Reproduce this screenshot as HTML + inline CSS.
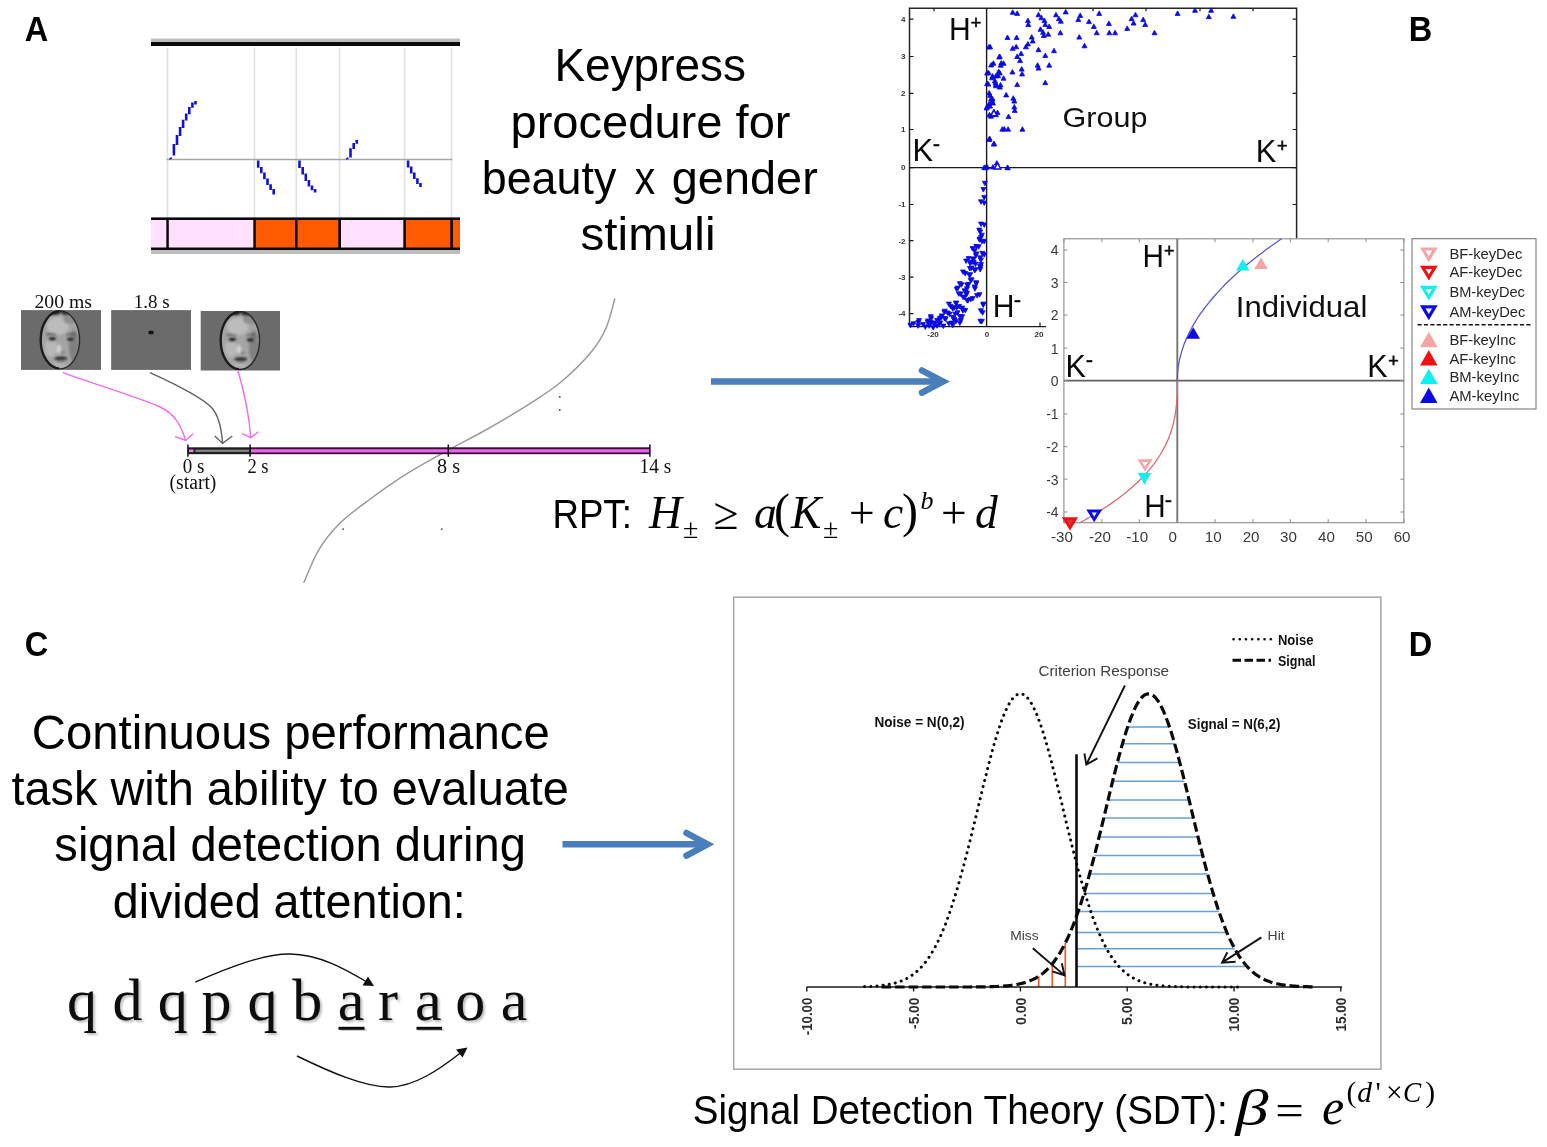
<!DOCTYPE html>
<html lang="en"><head><meta charset="utf-8"><title>Figure: keypress procedure, RPT, continuous performance task and signal detection theory</title>
<style>html,body{margin:0;padding:0;background:#fff;}body{width:1547px;height:1147px;overflow:hidden;}svg{display:block;}</style>
</head><body>
<svg width="1547" height="1147" viewBox="0 0 1547 1147">
<defs>
<radialGradient id="faceg" cx="0.45" cy="0.4" r="0.75"><stop offset="0" stop-color="#dcdcdc"/><stop offset="0.55" stop-color="#c2c2c2"/><stop offset="1" stop-color="#8c8c8c"/></radialGradient>
<filter id="soft" filterUnits="userSpaceOnUse" x="0" y="290" width="300" height="100"><feGaussianBlur stdDeviation="1.0"/></filter>
<filter id="soft2" filterUnits="userSpaceOnUse" x="0" y="290" width="300" height="100"><feGaussianBlur stdDeviation="0.45"/></filter>
<filter id="lshadow" x="-10%" y="-10%" width="130%" height="130%"><feGaussianBlur in="SourceAlpha" stdDeviation="1.3" result="b"/><feOffset in="b" dx="1.8" dy="1.8" result="o"/><feComponentTransfer in="o" result="s"><feFuncA type="linear" slope="0.26"/></feComponentTransfer><feMerge><feMergeNode in="s"/><feMergeNode in="SourceGraphic"/></feMerge></filter>
</defs>
<rect width="1547" height="1147" fill="#fff"/>
<g id="panel-labels">
<text x="24.8" y="41" font-family='"Liberation Sans", Arial, Helvetica, sans-serif' font-size="34.8" text-anchor="start" font-weight="bold" textLength="23.5" lengthAdjust="spacingAndGlyphs">A</text>
<text x="1408.8" y="40.8" font-family='"Liberation Sans", Arial, Helvetica, sans-serif' font-size="34.8" text-anchor="start" font-weight="bold" textLength="23.5" lengthAdjust="spacingAndGlyphs">B</text>
<text x="24.7" y="655.9" font-family='"Liberation Sans", Arial, Helvetica, sans-serif' font-size="34.8" text-anchor="start" font-weight="bold" textLength="23.5" lengthAdjust="spacingAndGlyphs">C</text>
<text x="1408.8" y="655.8" font-family='"Liberation Sans", Arial, Helvetica, sans-serif' font-size="34.8" text-anchor="start" font-weight="bold" textLength="23.5" lengthAdjust="spacingAndGlyphs">D</text>
</g>
<g id="trace">
<rect x="151" y="38.5" width="309" height="4" fill="#bdbdbd"/>
<rect x="151" y="42" width="309" height="4" fill="#0a0a0a"/>
<line x1="167.5" y1="47.5" x2="167.5" y2="218" stroke="#e2e2e2" stroke-width="1.7"/>
<line x1="254.5" y1="47.5" x2="254.5" y2="218" stroke="#e2e2e2" stroke-width="1.7"/>
<line x1="296.3" y1="47.5" x2="296.3" y2="218" stroke="#e2e2e2" stroke-width="1.7"/>
<line x1="339.6" y1="47.5" x2="339.6" y2="218" stroke="#e2e2e2" stroke-width="1.7"/>
<line x1="404.6" y1="47.5" x2="404.6" y2="218" stroke="#e2e2e2" stroke-width="1.7"/>
<line x1="451.6" y1="47.5" x2="451.6" y2="218" stroke="#e2e2e2" stroke-width="1.7"/>
<line x1="166.5" y1="159.5" x2="452.5" y2="159.5" stroke="#a6a6a6" stroke-width="1.5"/>
<rect x="151" y="250" width="309" height="4" fill="#bdbdbd"/>
<rect x="151" y="217.4" width="309" height="32.6" fill="#0a0a0a"/>
<rect x="151" y="220" width="15.3" height="27.5" fill="#ffe0ff"/>
<rect x="168.8" y="220" width="84.5" height="27.5" fill="#ffe0ff"/>
<rect x="255.8" y="220" width="39.2" height="27.5" fill="#ff5a00"/>
<rect x="297.6" y="220" width="40.7" height="27.5" fill="#ff5a00"/>
<rect x="341" y="220" width="62.3" height="27.5" fill="#ffe0ff"/>
<rect x="405.9" y="220" width="44.4" height="27.5" fill="#ff5a00"/>
<rect x="452.9" y="220" width="7.1" height="27.5" fill="#ff5a00"/>
<path d="M172.6 144.1h2.6V155.4h-2.6ZM175.7 135.1h2.6V144.9h-2.6ZM178.8 127.1h2.6V135.9h-2.6ZM181.8 119.8h2.6V127.9h-2.6ZM184.9 113.4h2.6V120.6h-2.6ZM188.0 106.9h2.6V114.2h-2.6ZM191.1 102.6h2.6V107.7h-2.6ZM194.2 101.1h2.6V104.5h-2.6ZM256.9 160.6h2.6V167.7h-2.6ZM260.0 166.9h2.6V173.2h-2.6ZM263.1 172.4h2.6V179.2h-2.6ZM266.2 178.4h2.6V185.0h-2.6ZM269.3 184.2h2.6V189.9h-2.6ZM272.4 189.1h2.6V194.4h-2.6ZM298.2 160.6h2.6V167.9h-2.6ZM301.4 167.1h2.6V174.4h-2.6ZM304.5 173.6h2.6V180.9h-2.6ZM307.6 180.1h2.6V186.4h-2.6ZM310.7 185.6h2.6V190.2h-2.6ZM313.8 189.0h2.6V192.4h-2.6ZM349.2 148.2h2.6V157.4h-2.6ZM352.4 143.0h2.6V149.0h-2.6ZM355.5 139.9h2.6V143.8h-2.6ZM406.8 160.6h2.6V167.4h-2.6ZM409.9 166.6h2.6V173.4h-2.6ZM413.0 172.6h2.6V179.1h-2.6ZM416.1 178.3h2.6V183.9h-2.6ZM419.2 183.1h2.6V186.9h-2.6Z" fill="#1212d6"/>
<path d="M169.5 159.3 l2.2 -1.6 M346.3 159.3 l2 -1.6" stroke="#1212d6" stroke-width="1.6" fill="none"/>
</g>
<g id="keypress-text">
<text x="650.2" y="81.3" font-family='"Liberation Sans", Arial, Helvetica, sans-serif' font-size="47" text-anchor="middle" textLength="191.5" lengthAdjust="spacingAndGlyphs">Keypress</text>
<text x="650.5" y="137.5" font-family='"Liberation Sans", Arial, Helvetica, sans-serif' font-size="47" text-anchor="middle" textLength="280" lengthAdjust="spacingAndGlyphs">procedure for</text>
<text x="481.8" y="193.6" font-family='"Liberation Sans", Arial, Helvetica, sans-serif' font-size="47" text-anchor="start" textLength="134.5" lengthAdjust="spacingAndGlyphs">beauty</text>
<text x="634.8" y="193.6" font-family='"Liberation Sans", Arial, Helvetica, sans-serif' font-size="47" text-anchor="start" textLength="20.5" lengthAdjust="spacingAndGlyphs">x</text>
<text x="671.8" y="193.6" font-family='"Liberation Sans", Arial, Helvetica, sans-serif' font-size="47" text-anchor="start" textLength="146" lengthAdjust="spacingAndGlyphs">gender</text>
<text x="648" y="250.4" font-family='"Liberation Sans", Arial, Helvetica, sans-serif' font-size="47" text-anchor="middle" textLength="135" lengthAdjust="spacingAndGlyphs">stimuli</text>
</g>
<path id="sigmoid" d="M303.7 583 C306.2 577.6 312.6 560.3 318.5 550.4 C324.4 540.5 330.9 532.2 339.3 523.8 C347.7 515.4 357.5 508.4 368.9 500 C380.2 491.6 394.0 481.8 407.4 473.4 C420.8 465.0 435.6 457.1 449 449.7 C462.4 442.3 473.7 436.9 487.5 429 C501.3 421.1 519.5 410.2 531.9 402.3 C544.2 394.4 551.7 389.9 561.6 381.5 C571.5 373.1 583.8 360.8 591.2 351.9 C598.6 343.0 602.0 337.1 606 328.2 C610.0 319.3 613.4 303.4 614.9 298.5" stroke="#9a9a9a" stroke-width="1.5" fill="none"/>
<circle cx="343.1" cy="529.1" r="0.9" fill="#444"/>
<circle cx="441.8" cy="529.1" r="0.9" fill="#444"/>
<circle cx="559.8" cy="396.9" r="0.9" fill="#444"/>
<circle cx="559.8" cy="410" r="0.9" fill="#444"/>
<g id="stimuli">
<text x="34.5" y="307.7" font-family='"Liberation Serif", "Times New Roman", serif' font-size="18.8" text-anchor="start" fill="#111" textLength="57.5" lengthAdjust="spacingAndGlyphs">200 ms</text>
<text x="133.7" y="307.7" font-family='"Liberation Serif", "Times New Roman", serif' font-size="18.8" text-anchor="start" fill="#111" textLength="36" lengthAdjust="spacingAndGlyphs">1.8 s</text>
<rect x="21" y="310.1" width="80" height="59.8" fill="#6b6b6b"/>
<rect x="111.2" y="310.1" width="79.8" height="59.8" fill="#6b6b6b"/>
<rect x="200.7" y="311" width="79.3" height="59.5" fill="#6b6b6b"/>
<clipPath id="c1"><rect x="21" y="310.1" width="80" height="59.8"/></clipPath>
<clipPath id="c3"><rect x="200.7" y="311" width="79.3" height="59.5"/></clipPath>
<g clip-path="url(#c1)">
<g>
<clipPath id="fca"><ellipse cx="60" cy="339.9" rx="20.2" ry="29.6"/></clipPath>
<ellipse cx="60" cy="339.9" rx="20.2" ry="29.6" fill="#a4a4a4"/>
<g clip-path="url(#fca)"><g filter="url(#soft)">
<ellipse cx="58" cy="325.9" rx="11" ry="9" fill="#bcbcbc"/>
<ellipse cx="51" cy="347.9" rx="6" ry="9" fill="#b8b8b8"/>
<ellipse cx="59" cy="348.9" rx="2.2" ry="4.5" fill="#d2d2d2"/>
<ellipse cx="60" cy="364.9" rx="6" ry="3" fill="#b4b4b4"/>
<ellipse cx="74" cy="345.9" rx="5" ry="16" fill="#808080"/>
<ellipse cx="70" cy="318.9" rx="7" ry="5" fill="#8e8e8e"/>
<ellipse cx="55" cy="311.4" rx="6" ry="3.6" fill="#2a2a2a"/>
<ellipse cx="66" cy="311.9" rx="5" ry="3.4" fill="#303030"/>
<ellipse cx="52.2" cy="339.09999999999997" rx="3.6" ry="1.9" fill="#181818"/>
<ellipse cx="70.5" cy="339.29999999999995" rx="3.6" ry="1.8" fill="#202020"/>
<path d="M46.5 334.9 Q52 332.4 56.5 335.29999999999995" stroke="#3c3c3c" stroke-width="1.3" fill="none"/>
<path d="M66.5 334.9 Q71 332.9 76 334.9" stroke="#444" stroke-width="1.2" fill="none"/>
<ellipse cx="60.8" cy="358.5" rx="6.6" ry="1.9" fill="#2c2c2c"/>
<ellipse cx="61" cy="361.4" rx="4" ry="1.3" fill="#808080"/>
<ellipse cx="62.5" cy="352.4" rx="2.6" ry="1" fill="#7a7a7a"/>
</g></g>
<ellipse cx="60" cy="339.9" rx="19.599999999999998" ry="29.0" fill="none" stroke="#262626" stroke-width="1.4" filter="url(#soft2)"/>
<clipPath id="fla"><rect x="37.8" y="308.29999999999995" width="21.2" height="63.2"/></clipPath>
<ellipse cx="60" cy="339.9" rx="19.3" ry="28.700000000000003" fill="none" stroke="#1a1a1a" stroke-width="2.3" filter="url(#soft2)" clip-path="url(#fla)"/>
</g>
</g>
<g clip-path="url(#c3)">
<g>
<clipPath id="fcb"><ellipse cx="240" cy="340.5" rx="20.2" ry="29.6"/></clipPath>
<ellipse cx="240" cy="340.5" rx="20.2" ry="29.6" fill="#a4a4a4"/>
<g clip-path="url(#fcb)"><g filter="url(#soft)">
<ellipse cx="238" cy="326.5" rx="11" ry="9" fill="#bcbcbc"/>
<ellipse cx="231" cy="348.5" rx="6" ry="9" fill="#b8b8b8"/>
<ellipse cx="239" cy="349.5" rx="2.2" ry="4.5" fill="#d2d2d2"/>
<ellipse cx="240" cy="365.5" rx="6" ry="3" fill="#b4b4b4"/>
<ellipse cx="254" cy="346.5" rx="5" ry="16" fill="#808080"/>
<ellipse cx="250" cy="319.5" rx="7" ry="5" fill="#8e8e8e"/>
<ellipse cx="235" cy="312.0" rx="6" ry="3.6" fill="#2a2a2a"/>
<ellipse cx="246" cy="312.5" rx="5" ry="3.4" fill="#303030"/>
<ellipse cx="232.2" cy="339.7" rx="3.6" ry="1.9" fill="#181818"/>
<ellipse cx="250.5" cy="339.9" rx="3.6" ry="1.8" fill="#202020"/>
<path d="M226.5 335.5 Q232 333.0 236.5 335.9" stroke="#3c3c3c" stroke-width="1.3" fill="none"/>
<path d="M246.5 335.5 Q251 333.5 256 335.5" stroke="#444" stroke-width="1.2" fill="none"/>
<ellipse cx="240.8" cy="359.1" rx="6.6" ry="1.9" fill="#2c2c2c"/>
<ellipse cx="241" cy="362.0" rx="4" ry="1.3" fill="#808080"/>
<ellipse cx="242.5" cy="353.0" rx="2.6" ry="1" fill="#7a7a7a"/>
</g></g>
<ellipse cx="240" cy="340.5" rx="19.599999999999998" ry="29.0" fill="none" stroke="#262626" stroke-width="1.4" filter="url(#soft2)"/>
<clipPath id="flb"><rect x="217.8" y="308.9" width="21.2" height="63.2"/></clipPath>
<ellipse cx="240" cy="340.5" rx="19.3" ry="28.700000000000003" fill="none" stroke="#1a1a1a" stroke-width="2.3" filter="url(#soft2)" clip-path="url(#flb)"/>
</g>
</g>
<rect x="148.5" y="330.8" width="5" height="3.4" rx="1" fill="#111"/>
<path d="M62.6 372.6 C100 386 140 398 160 407 C175 414 181 425 185.7 440.5" stroke="#f06af0" stroke-width="1.4" fill="none"/>
<path d="M175 436.6 L185.7 440.5 L193 433.7" stroke="#f06af0" stroke-width="1.4" fill="none"/>
<path d="M150 372.6 C175 384 200 396 211 407 C219 415 221.5 428 222.6 443.4" stroke="#606060" stroke-width="1.4" fill="none"/>
<path d="M214.8 436 L222.6 443.4 L232.3 436" stroke="#606060" stroke-width="1.4" fill="none"/>
<path d="M238 370.7 C243 388 249 410 250.7 437.6" stroke="#f06af0" stroke-width="1.4" fill="none"/>
<path d="M242 433.7 L250.7 437.6 L258.5 431.7" stroke="#f06af0" stroke-width="1.4" fill="none"/>
<rect x="188" y="447.3" width="62" height="6.9" fill="#1e1e1e"/><rect x="250" y="447.3" width="400" height="6.9" fill="#3a0a3a"/>
<rect x="189" y="449.5" width="4.5" height="2.6" fill="#f080f0"/>
<rect x="195.3" y="449.6" width="54" height="2.4" fill="#808080"/>
<rect x="251" y="449.2" width="398" height="3.2" fill="#e868e8"/>
<line x1="187.9" y1="444.5" x2="187.9" y2="456.8" stroke="#111" stroke-width="1.5"/>
<line x1="250.1" y1="444.5" x2="250.1" y2="456.8" stroke="#111" stroke-width="1.5"/>
<line x1="448.3" y1="444.5" x2="448.3" y2="456.8" stroke="#111" stroke-width="1.5"/>
<line x1="649.9" y1="444.5" x2="649.9" y2="456.8" stroke="#111" stroke-width="1.5"/>
<text x="182.8" y="473.3" font-family='"Liberation Serif", "Times New Roman", serif' font-size="20" text-anchor="start" fill="#111" textLength="21.7" lengthAdjust="spacingAndGlyphs">0 s</text>
<text x="169.6" y="489" font-family='"Liberation Serif", "Times New Roman", serif' font-size="20" text-anchor="start" fill="#111" textLength="46.8" lengthAdjust="spacingAndGlyphs">(start)</text>
<text x="247.4" y="473.3" font-family='"Liberation Serif", "Times New Roman", serif' font-size="20" text-anchor="start" fill="#111" textLength="21.2" lengthAdjust="spacingAndGlyphs">2 s</text>
<text x="437" y="473.3" font-family='"Liberation Serif", "Times New Roman", serif' font-size="20" text-anchor="start" fill="#111" textLength="23" lengthAdjust="spacingAndGlyphs">8 s</text>
<text x="639.5" y="473.3" font-family='"Liberation Serif", "Times New Roman", serif' font-size="20" text-anchor="start" fill="#111" textLength="31.7" lengthAdjust="spacingAndGlyphs">14 s</text>
</g>
<g id="rpt">
<text x="552.4" y="528.2" font-family='"Liberation Sans", Arial, Helvetica, sans-serif' font-size="40" text-anchor="start" textLength="79.5" lengthAdjust="spacingAndGlyphs">RPT:</text>
<text x="649" y="528" font-family='"Liberation Serif", "Times New Roman", serif' font-size="45.5" text-anchor="start" font-style="italic">H</text>
<text x="683" y="537.5" font-family='"Liberation Serif", "Times New Roman", serif' font-size="28" text-anchor="start">±</text>
<text x="713.5" y="529" font-family='"Liberation Serif", "Times New Roman", serif' font-size="45.5" text-anchor="start">≥</text>
<text x="754" y="528" font-family='"Liberation Serif", "Times New Roman", serif' font-size="45.5" text-anchor="start" font-style="italic">a</text>
<text x="774" y="527" font-family='"Liberation Serif", "Times New Roman", serif' font-size="48" text-anchor="start">(</text>
<text x="791" y="528" font-family='"Liberation Serif", "Times New Roman", serif' font-size="45.5" text-anchor="start" font-style="italic">K</text>
<text x="823" y="537.5" font-family='"Liberation Serif", "Times New Roman", serif' font-size="28" text-anchor="start">±</text>
<text x="849" y="528" font-family='"Liberation Serif", "Times New Roman", serif' font-size="45.5" text-anchor="start">+</text>
<text x="883" y="528" font-family='"Liberation Serif", "Times New Roman", serif' font-size="45.5" text-anchor="start" font-style="italic">c</text>
<text x="902" y="527" font-family='"Liberation Serif", "Times New Roman", serif' font-size="48" text-anchor="start">)</text>
<text x="920.5" y="508.5" font-family='"Liberation Serif", "Times New Roman", serif' font-size="26" text-anchor="start" font-style="italic">b</text>
<text x="941" y="528" font-family='"Liberation Serif", "Times New Roman", serif' font-size="45.5" text-anchor="start">+</text>
<text x="975" y="528" font-family='"Liberation Serif", "Times New Roman", serif' font-size="45.5" text-anchor="start" font-style="italic">d</text>
</g>
<g id="group-plot">
<path d="M909.5 326.6 V8.3 H1296.6 V240" stroke="#262626" stroke-width="1.5" fill="none"/>
<path d="M909.5 326.6 H1046" stroke="#1a1a1a" stroke-width="1.4" fill="none"/>
<line x1="986.6" y1="8.3" x2="986.6" y2="326.6" stroke="#1a1a1a" stroke-width="1.4"/>
<line x1="909.5" y1="167.6" x2="1296.6" y2="167.6" stroke="#1a1a1a" stroke-width="1.4"/>
<path d="M909.5 19.2h4M1296.6 19.2h-4M909.5 56.5h4M1296.6 56.5h-4M909.5 93.4h4M1296.6 93.4h-4M909.5 129.5h4M1296.6 129.5h-4M909.5 167.6h4M1296.6 167.6h-4M909.5 204.5h4M1296.6 204.5h-4M909.5 240.7h4M909.5 277.1h4M909.5 313.6h4M934 326.6v-4M1040 326.6v-4M934 8.3v3M1040 8.3v3M1093 8.3v3M1146 8.3v3M1200 8.3v3M1253 8.3v3" stroke="#1a1a1a" stroke-width="1.2" fill="none"/>
<text x="905.5" y="22.0" font-family='"Liberation Sans", Arial, Helvetica, sans-serif' font-size="8" text-anchor="end" font-weight="bold" fill="#333">4</text>
<text x="905.5" y="59.3" font-family='"Liberation Sans", Arial, Helvetica, sans-serif' font-size="8" text-anchor="end" font-weight="bold" fill="#333">3</text>
<text x="905.5" y="96.2" font-family='"Liberation Sans", Arial, Helvetica, sans-serif' font-size="8" text-anchor="end" font-weight="bold" fill="#333">2</text>
<text x="905.5" y="132.3" font-family='"Liberation Sans", Arial, Helvetica, sans-serif' font-size="8" text-anchor="end" font-weight="bold" fill="#333">1</text>
<text x="905.5" y="170.4" font-family='"Liberation Sans", Arial, Helvetica, sans-serif' font-size="8" text-anchor="end" font-weight="bold" fill="#333">0</text>
<text x="905.5" y="207.3" font-family='"Liberation Sans", Arial, Helvetica, sans-serif' font-size="8" text-anchor="end" font-weight="bold" fill="#333">-1</text>
<text x="905.5" y="243.5" font-family='"Liberation Sans", Arial, Helvetica, sans-serif' font-size="8" text-anchor="end" font-weight="bold" fill="#333">-2</text>
<text x="905.5" y="279.90000000000003" font-family='"Liberation Sans", Arial, Helvetica, sans-serif' font-size="8" text-anchor="end" font-weight="bold" fill="#333">-3</text>
<text x="905.5" y="316.40000000000003" font-family='"Liberation Sans", Arial, Helvetica, sans-serif' font-size="8" text-anchor="end" font-weight="bold" fill="#333">-4</text>
<text x="933" y="336.5" font-family='"Liberation Sans", Arial, Helvetica, sans-serif' font-size="8" text-anchor="middle" font-weight="bold" fill="#333">-20</text>
<text x="987" y="336.5" font-family='"Liberation Sans", Arial, Helvetica, sans-serif' font-size="8" text-anchor="middle" font-weight="bold" fill="#333">0</text>
<text x="1039" y="336.5" font-family='"Liberation Sans", Arial, Helvetica, sans-serif' font-size="8" text-anchor="middle" font-weight="bold" fill="#333">20</text>
<path d="M1010.2 14.3L1012.7 9.8L1015.2 14.3ZM1014.7 15.4L1017.2 10.9L1019.7 15.4ZM1036.0 16.8L1038.5 12.3L1041.0 16.8ZM1038.9 19.7L1041.4 15.2L1043.9 19.7ZM1041.9 22.6L1044.4 18.1L1046.9 22.6ZM1042.8 26.5L1045.3 22.0L1047.8 26.5ZM1046.7 28.4L1049.2 23.9L1051.7 28.4ZM1053.5 16.8L1056.0 12.3L1058.5 16.8ZM1056.4 20.7L1058.9 16.2L1061.4 20.7ZM1058.3 23.2L1060.8 18.7L1063.3 23.2ZM1063.2 13.9L1065.7 9.4L1068.2 13.9ZM1077.7 17.4L1080.2 12.9L1082.7 17.4ZM1075.8 21.6L1078.3 17.1L1080.8 21.6ZM1086.5 23.6L1089.0 19.1L1091.5 23.6ZM1091.3 28.4L1093.8 23.9L1096.3 28.4ZM1096.7 15.4L1099.2 10.9L1101.7 15.4ZM1106.4 25.5L1108.9 21.0L1111.4 25.5ZM1133.0 16.8L1135.5 12.3L1138.0 16.8ZM1129.1 20.7L1131.6 16.2L1134.1 20.7ZM1131.1 25.1L1133.6 20.6L1136.1 25.1ZM1124.7 30.4L1127.2 25.9L1129.7 30.4ZM1140.7 21.6L1143.2 17.1L1145.7 21.6ZM1142.7 26.5L1145.2 22.0L1147.7 26.5ZM1152.0 34.8L1154.5 30.3L1157.0 34.8ZM1175.1 15.4L1177.6 10.9L1180.1 15.4ZM1192.5 12.3L1195.0 7.8L1197.5 12.3ZM1208.6 12.3L1211.1 7.8L1213.6 12.3ZM1206.3 18.7L1208.8 14.2L1211.3 18.7ZM1230.9 18.3L1233.4 13.8L1235.9 18.3ZM1025.4 22.6L1027.9 18.1L1030.4 22.6ZM1025.8 26.5L1028.3 22.0L1030.8 26.5ZM1038.0 31.3L1040.5 26.8L1043.0 31.3ZM1040.5 34.2L1043.0 29.7L1045.5 34.2ZM1041.3 37.5L1043.8 33.0L1046.3 37.5ZM1045.7 36.2L1048.2 31.7L1050.7 36.2ZM1057.9 34.8L1060.4 30.3L1062.9 34.8ZM1094.2 34.8L1096.7 30.3L1099.2 34.8ZM1106.8 34.8L1109.3 30.3L1111.8 34.8ZM1112.6 34.8L1115.1 30.3L1117.6 34.8ZM1076.8 39.1L1079.3 34.6L1081.8 39.1ZM1082.0 47.8L1084.5 43.3L1087.0 47.8ZM1005.0 39.5L1007.5 35.0L1010.0 39.5ZM1014.1 39.5L1016.6 35.0L1019.1 39.5ZM1029.2 39.1L1031.7 34.6L1034.2 39.1ZM1030.2 43.0L1032.7 38.5L1035.2 43.0ZM1025.4 45.9L1027.9 41.4L1030.4 45.9ZM1023.4 48.8L1025.9 44.3L1028.4 48.8ZM1013.7 48.8L1016.2 44.3L1018.7 48.8ZM1010.2 50.3L1012.7 45.8L1015.2 50.3ZM987.6 48.8L990.1 44.3L992.6 48.8ZM986.4 49.0L988.9 44.5L991.4 49.0ZM1036.0 51.7L1038.5 47.2L1041.0 51.7ZM1051.5 52.7L1054.0 48.2L1056.5 52.7ZM1042.8 57.5L1045.3 53.0L1047.8 57.5ZM1018.6 55.6L1021.1 51.1L1023.6 55.6ZM1014.7 58.5L1017.2 54.0L1019.7 58.5ZM1017.6 62.4L1020.1 57.9L1022.6 62.4ZM997.3 58.5L999.8 54.0L1002.3 58.5ZM996.7 59.0L999.2 54.5L1001.7 59.0ZM1001.1 65.3L1003.6 60.8L1006.1 65.3ZM998.2 67.2L1000.7 62.7L1003.2 67.2ZM998.8 65.0L1001.3 60.5L1003.8 65.0ZM990.9 65.3L993.4 60.8L995.9 65.3ZM988.7 67.0L991.2 62.5L993.7 67.0ZM1035.1 67.2L1037.6 62.7L1040.1 67.2ZM1036.0 70.1L1038.5 65.6L1041.0 70.1ZM1046.7 67.2L1049.2 62.7L1051.7 67.2ZM1019.2 71.1L1021.7 66.6L1024.2 71.1ZM1009.9 74.0L1012.4 69.5L1014.9 74.0ZM1019.6 75.9L1022.1 71.4L1024.6 75.9ZM997.3 75.0L999.8 70.5L1002.3 75.0ZM996.2 73.6L998.7 69.1L1001.2 73.6ZM993.4 77.9L995.9 73.4L998.4 77.9ZM995.6 77.7L998.1 73.2L1000.6 77.7ZM984.6 75.0L987.1 70.5L989.6 75.0ZM986.1 74.8L988.6 70.3L991.1 74.8ZM989.5 79.8L992.0 75.3L994.5 79.8ZM990.1 78.1L992.6 73.6L995.1 78.1ZM992.4 82.7L994.9 78.2L997.4 82.7ZM993.0 84.6L995.5 80.1L998.0 84.6ZM1001.1 80.2L1003.6 75.7L1006.1 80.2ZM993.4 86.6L995.9 82.1L998.4 86.6ZM993.5 87.8L996.0 83.3L998.5 87.8ZM997.3 89.1L999.8 84.6L1002.3 89.1ZM998.0 86.9L1000.5 82.4L1003.0 86.9ZM984.6 85.6L987.1 81.1L989.6 85.6ZM985.8 86.1L988.3 81.6L990.8 86.1ZM1014.7 86.6L1017.2 82.1L1019.7 86.6ZM1042.8 84.7L1045.3 80.2L1047.8 84.7ZM1003.7 96.9L1006.2 92.4L1008.7 96.9ZM1010.8 100.2L1013.3 95.7L1015.8 100.2ZM1011.8 103.1L1014.3 98.6L1016.8 103.1ZM987.6 97.3L990.1 92.8L992.6 97.3ZM986.7 94.9L989.2 90.4L991.7 94.9ZM988.5 101.1L991.0 96.6L993.5 101.1ZM990.1 101.0L992.6 96.5L995.1 101.0ZM989.5 103.1L992.0 98.6L994.5 103.1ZM990.5 105.0L993.0 100.5L995.5 105.0ZM986.6 106.0L989.1 101.5L991.6 106.0ZM987.5 108.1L990.0 103.6L992.5 108.1ZM984.6 108.5L987.1 104.0L989.6 108.5ZM984.2 110.0L986.7 105.5L989.2 110.0ZM1011.8 108.9L1014.3 104.4L1016.8 108.9ZM1012.2 112.4L1014.7 107.9L1017.2 112.4ZM991.4 113.7L993.9 109.2L996.4 113.7ZM991.2 115.9L993.7 111.4L996.2 115.9ZM993.4 116.7L995.9 112.2L998.4 116.7ZM995.0 114.6L997.5 110.1L1000.0 114.6ZM988.5 118.2L991.0 113.7L993.5 118.2ZM986.9 116.8L989.4 112.3L991.9 116.8ZM1006.0 118.6L1008.5 114.1L1011.0 118.6ZM999.8 131.2L1002.3 126.7L1004.8 131.2ZM1001.8 130.9L1004.3 126.4L1006.8 130.9ZM1005.6 131.2L1008.1 126.7L1010.6 131.2ZM1019.9 131.2L1022.4 126.7L1024.9 131.2ZM986.6 141.5L989.1 137.0L991.6 141.5ZM987.1 140.5L989.6 136.0L992.1 140.5ZM991.4 146.1L993.9 141.6L996.4 146.1ZM991.5 145.6L994.0 141.1L996.5 145.6ZM994.3 165.1L996.8 160.6L999.3 165.1ZM995.3 168.6L997.8 164.1L1000.3 168.6ZM984.6 169.0L987.1 164.5L989.6 169.0ZM981.7 169.4L984.2 164.9L986.7 169.4ZM1005.0 169.4L1007.5 164.9L1010.0 169.4ZM990.5 169.0L993.0 164.5L995.5 169.0ZM982.4 181.3L984.9 185.8L987.4 181.3ZM980.9 187.6L983.4 192.1L985.9 187.6ZM981.7 195.4L984.2 199.9L986.7 195.4ZM978.5 199.8L981.0 204.3L983.5 199.8ZM981.7 200.9L984.2 205.4L986.7 200.9ZM978.5 222.1L981.0 226.6L983.5 222.1ZM981.7 222.9L984.2 227.4L986.7 222.9ZM977.7 229.9L980.2 234.4L982.7 229.9ZM976.8 228.1L979.3 232.6L981.8 228.1ZM978.5 235.4L981.0 239.9L983.5 235.4ZM979.3 233.2L981.8 237.7L984.3 233.2ZM977.0 237.8L979.5 242.3L982.0 237.8ZM977.1 237.1L979.6 241.6L982.1 237.1ZM981.7 239.4L984.2 243.9L986.7 239.4ZM979.4 239.4L981.9 243.9L984.4 239.4ZM976.2 244.8L978.7 249.3L981.2 244.8ZM973.8 244.5L976.3 249.0L978.8 244.5ZM972.2 248.8L974.7 253.3L977.2 248.8ZM970.0 246.6L972.5 251.1L975.0 246.6ZM973.8 251.9L976.3 256.4L978.8 251.9ZM973.4 253.6L975.9 258.1L978.4 253.6ZM981.7 252.7L984.2 257.2L986.7 252.7ZM979.7 251.3L982.2 255.8L984.7 251.3ZM977.7 255.8L980.2 260.3L982.7 255.8ZM978.4 258.2L980.9 262.7L983.4 258.2ZM970.7 257.4L973.2 261.9L975.7 257.4ZM971.1 256.9L973.6 261.4L976.1 256.9ZM963.6 259.0L966.1 263.5L968.6 259.0ZM966.1 256.6L968.6 261.1L971.1 256.6ZM967.5 261.3L970.0 265.8L972.5 261.3ZM969.4 260.2L971.9 264.7L974.4 260.2ZM973.0 262.1L975.5 266.6L978.0 262.1ZM971.2 260.1L973.7 264.6L976.2 260.1ZM978.5 262.6L981.0 267.1L983.5 262.6ZM977.5 264.2L980.0 268.7L982.5 264.2ZM969.1 266.0L971.6 270.5L974.1 266.0ZM967.4 266.5L969.9 271.0L972.4 266.5ZM972.2 268.4L974.7 272.9L977.2 268.4ZM973.0 267.7L975.5 272.2L978.0 267.7ZM977.7 267.6L980.2 272.1L982.7 267.6ZM978.0 265.3L980.5 269.8L983.0 265.3ZM962.8 271.5L965.3 276.0L967.8 271.5ZM960.5 270.0L963.0 274.5L965.5 270.0ZM966.8 273.1L969.3 277.6L971.8 273.1ZM967.7 272.7L970.2 277.2L972.7 272.7ZM969.1 277.8L971.6 282.3L974.1 277.8ZM968.1 278.3L970.6 282.8L973.1 278.3ZM973.8 281.7L976.3 286.2L978.8 281.7ZM973.6 280.7L976.1 285.2L978.6 280.7ZM957.3 281.7L959.8 286.2L962.3 281.7ZM958.9 282.8L961.4 287.3L963.9 282.8ZM966.0 282.5L968.5 287.0L971.0 282.5ZM964.6 282.9L967.1 287.4L969.6 282.9ZM972.2 284.9L974.7 289.4L977.2 284.9ZM972.4 286.8L974.9 291.3L977.4 286.8ZM954.2 287.2L956.7 291.7L959.2 287.2ZM955.4 286.1L957.9 290.6L960.4 286.1ZM962.0 288.8L964.5 293.3L967.0 288.8ZM964.5 286.8L967.0 291.3L969.5 286.8ZM964.4 291.1L966.9 295.6L969.4 291.1ZM964.0 292.5L966.5 297.0L969.0 292.5ZM958.1 291.9L960.6 296.4L963.1 291.9ZM956.3 291.9L958.8 296.4L961.3 291.9ZM977.0 292.7L979.5 297.2L982.0 292.7ZM974.6 293.6L977.1 298.1L979.6 293.6ZM960.5 295.1L963.0 299.6L965.5 295.1ZM961.9 295.4L964.4 299.9L966.9 295.4ZM968.3 297.4L970.8 301.9L973.3 297.4ZM970.3 296.5L972.8 301.0L975.3 296.5ZM964.4 298.2L966.9 302.7L969.4 298.2ZM965.4 298.7L967.9 303.2L970.4 298.7ZM953.4 301.3L955.9 305.8L958.4 301.3ZM953.8 301.1L956.3 305.6L958.8 301.1ZM946.4 302.1L948.9 306.6L951.4 302.1ZM948.1 304.4L950.6 308.9L953.1 304.4ZM980.9 302.1L983.4 306.6L985.9 302.1ZM980.7 303.0L983.2 307.5L985.7 303.0ZM956.6 304.5L959.1 309.0L961.6 304.5ZM954.3 305.5L956.8 310.0L959.3 305.5ZM959.7 306.1L962.2 310.6L964.7 306.1ZM960.5 308.6L963.0 313.1L965.5 308.6ZM950.3 306.8L952.8 311.3L955.3 306.8ZM951.9 305.7L954.4 310.2L956.9 305.7ZM942.4 309.2L944.9 313.7L947.4 309.2ZM941.8 310.1L944.3 314.6L946.8 310.1ZM962.8 308.4L965.3 312.9L967.8 308.4ZM960.3 308.2L962.8 312.7L965.3 308.2ZM980.1 310.8L982.6 315.3L985.1 310.8ZM978.4 308.8L980.9 313.3L983.4 308.8ZM955.0 310.8L957.5 315.3L960.0 310.8ZM952.7 312.2L955.2 316.7L957.7 312.2ZM947.1 312.3L949.6 316.8L952.1 312.3ZM945.2 311.0L947.7 315.5L950.2 311.0ZM939.3 313.9L941.8 318.4L944.3 313.9ZM938.7 315.8L941.2 320.3L943.7 315.8ZM959.7 314.7L962.2 319.2L964.7 314.7ZM957.5 314.4L960.0 318.9L962.5 314.4ZM928.3 314.7L930.8 319.2L933.3 314.7ZM928.6 316.7L931.1 321.2L933.6 316.7ZM950.3 315.5L952.8 320.0L955.3 315.5ZM951.9 317.4L954.4 321.9L956.9 317.4ZM943.2 317.0L945.7 321.5L948.2 317.0ZM942.1 316.6L944.6 321.1L947.1 316.6ZM916.5 318.6L919.0 323.1L921.5 318.6ZM915.8 320.6L918.3 325.1L920.8 320.6ZM934.6 318.6L937.1 323.1L939.6 318.6ZM937.0 316.8L939.5 321.3L942.0 316.8ZM953.4 319.4L955.9 323.9L958.4 319.4ZM951.7 318.0L954.2 322.5L956.7 318.0ZM979.3 319.4L981.8 323.9L984.3 319.4ZM977.9 319.3L980.4 323.8L982.9 319.3ZM925.2 320.2L927.7 324.7L930.2 320.2ZM925.6 318.9L928.1 323.4L930.6 318.9ZM930.7 321.0L933.2 325.5L935.7 321.0ZM928.1 320.5L930.6 325.0L933.1 320.5ZM937.7 321.0L940.2 325.5L942.7 321.0ZM937.0 321.3L939.5 325.8L942.0 321.3ZM911.0 321.7L913.5 326.2L916.0 321.7ZM946.4 321.7L948.9 326.2L951.4 321.7ZM957.3 321.0L959.8 325.5L962.3 321.0ZM958.3 318.6L960.8 323.1L963.3 318.6ZM920.5 322.5L923.0 327.0L925.5 322.5ZM907.9 323.3L910.4 327.8L912.9 323.3ZM915.7 323.8L918.2 328.3L920.7 323.8ZM926.7 323.8L929.2 328.3L931.7 323.8ZM934.6 323.8L937.1 328.3L939.6 323.8ZM932.3 321.5L934.8 326.0L937.3 321.5ZM940.9 324.1L943.4 328.6L945.9 324.1ZM950.3 323.3L952.8 327.8L955.3 323.3ZM949.4 321.0L951.9 325.5L954.4 321.0ZM922.8 324.9L925.3 329.4L927.8 324.9ZM930.7 325.7L933.2 330.2L935.7 325.7ZM983.1 169.8L985.7 165.2L988.3 169.8ZM1005.1 169.8L1007.7 165.2L1010.3 169.8Z" fill="#0a0ae6" stroke="#0a0ae6" stroke-width="0.8" stroke-linejoin="round"/>
<path d="M994.3 169.0L997.5 163.0L1000.8 169.0Z" fill="#fff" stroke="#0a0ae6" stroke-width="1.4"/>
<path d="M990.9 115.6L993.9 110.1L996.9 115.6Z" fill="#fff" stroke="#0a0ae6" stroke-width="1.3"/>
<text x="949.05" y="39.7" font-family='"Liberation Sans", Arial, Helvetica, sans-serif' font-size="32" text-anchor="start" fill="#0a0a0a" textLength="21.72" lengthAdjust="spacingAndGlyphs">H</text>
<text x="970.64" y="29.11" font-family='"Liberation Sans", Arial, Helvetica, sans-serif' font-size="18" fill="#0a0a0a" stroke="#0a0a0a" stroke-width="0.6">+</text>
<text x="912.49" y="160.8" font-family='"Liberation Sans", Arial, Helvetica, sans-serif' font-size="32" text-anchor="start" fill="#0a0a0a" textLength="20.6" lengthAdjust="spacingAndGlyphs">K</text>
<text x="932.74" y="151.16" font-family='"Liberation Sans", Arial, Helvetica, sans-serif' font-size="22" fill="#0a0a0a" stroke="#0a0a0a" stroke-width="0.3">-</text>
<text x="1255.69" y="162" font-family='"Liberation Sans", Arial, Helvetica, sans-serif' font-size="32" text-anchor="start" fill="#0a0a0a" textLength="20.6" lengthAdjust="spacingAndGlyphs">K</text>
<text x="1277.04" y="151.71" font-family='"Liberation Sans", Arial, Helvetica, sans-serif' font-size="18" fill="#0a0a0a" stroke="#0a0a0a" stroke-width="0.6">+</text>
<text x="992.85" y="317.2" font-family='"Liberation Sans", Arial, Helvetica, sans-serif' font-size="32" text-anchor="start" fill="#0a0a0a" textLength="21.72" lengthAdjust="spacingAndGlyphs">H</text>
<text x="1013.74" y="307.46" font-family='"Liberation Sans", Arial, Helvetica, sans-serif' font-size="22" fill="#0a0a0a" stroke="#0a0a0a" stroke-width="0.3">-</text>
<text x="1062.6" y="126.8" font-family='"Liberation Sans", Arial, Helvetica, sans-serif' font-size="28.5" text-anchor="start" fill="#111" textLength="84.8" lengthAdjust="spacingAndGlyphs">Group</text>
</g>
<g id="individual-plot">
<rect x="1046.5" y="238.3" width="500.5" height="320" fill="#fff"/>
<rect x="1063.9" y="238.8" width="340.0" height="283.9" fill="#fff" stroke="#8a8a8a" stroke-width="1.1"/>
<line x1="1177.3" y1="238.8" x2="1177.3" y2="522.7" stroke="#757575" stroke-width="1.9"/>
<line x1="1063.9" y1="380.6" x2="1403.9" y2="380.6" stroke="#606060" stroke-width="1.7"/>
<path d="M1063.9 250h3.5M1403.9 250h-3.5M1063.9 282.5h3.5M1403.9 282.5h-3.5M1063.9 315h3.5M1403.9 315h-3.5M1063.9 348.1h3.5M1403.9 348.1h-3.5M1063.9 380.6h3.5M1403.9 380.6h-3.5M1063.9 414h3.5M1403.9 414h-3.5M1063.9 446.7h3.5M1403.9 446.7h-3.5M1063.9 479.2h3.5M1403.9 479.2h-3.5M1063.9 512h3.5M1403.9 512h-3.5M1063.9 522.7v-3.5M1063.9 238.8v3.5M1101.9 522.7v-3.5M1101.9 238.8v3.5M1139.3 522.7v-3.5M1139.3 238.8v3.5M1177.3 522.7v-3.5M1177.3 238.8v3.5M1215 522.7v-3.5M1215 238.8v3.5M1252.9 522.7v-3.5M1252.9 238.8v3.5M1290.3 522.7v-3.5M1290.3 238.8v3.5M1328.2 522.7v-3.5M1328.2 238.8v3.5M1366 522.7v-3.5M1366 238.8v3.5M1403.9 522.7v-3.5M1403.9 238.8v3.5" stroke="#8a8a8a" stroke-width="1" fill="none"/>
<text x="1058.6" y="255.4" font-family='"Liberation Sans", Arial, Helvetica, sans-serif' font-size="15.2" text-anchor="end" fill="#3a3a3a" textLength="7.8" lengthAdjust="spacingAndGlyphs">4</text>
<text x="1058.6" y="287.9" font-family='"Liberation Sans", Arial, Helvetica, sans-serif' font-size="15.2" text-anchor="end" fill="#3a3a3a" textLength="7.8" lengthAdjust="spacingAndGlyphs">3</text>
<text x="1058.6" y="320.4" font-family='"Liberation Sans", Arial, Helvetica, sans-serif' font-size="15.2" text-anchor="end" fill="#3a3a3a" textLength="7.8" lengthAdjust="spacingAndGlyphs">2</text>
<text x="1058.6" y="353.5" font-family='"Liberation Sans", Arial, Helvetica, sans-serif' font-size="15.2" text-anchor="end" fill="#3a3a3a" textLength="7.8" lengthAdjust="spacingAndGlyphs">1</text>
<text x="1058.6" y="386.0" font-family='"Liberation Sans", Arial, Helvetica, sans-serif' font-size="15.2" text-anchor="end" fill="#3a3a3a" textLength="7.8" lengthAdjust="spacingAndGlyphs">0</text>
<text x="1058.6" y="419.4" font-family='"Liberation Sans", Arial, Helvetica, sans-serif' font-size="15.2" text-anchor="end" fill="#3a3a3a" textLength="12.4" lengthAdjust="spacingAndGlyphs">-1</text>
<text x="1058.6" y="452.09999999999997" font-family='"Liberation Sans", Arial, Helvetica, sans-serif' font-size="15.2" text-anchor="end" fill="#3a3a3a" textLength="12.4" lengthAdjust="spacingAndGlyphs">-2</text>
<text x="1058.6" y="484.59999999999997" font-family='"Liberation Sans", Arial, Helvetica, sans-serif' font-size="15.2" text-anchor="end" fill="#3a3a3a" textLength="12.4" lengthAdjust="spacingAndGlyphs">-3</text>
<text x="1058.6" y="517.4" font-family='"Liberation Sans", Arial, Helvetica, sans-serif' font-size="15.2" text-anchor="end" fill="#3a3a3a" textLength="12.4" lengthAdjust="spacingAndGlyphs">-4</text>
<text x="1061.9" y="541.7" font-family='"Liberation Sans", Arial, Helvetica, sans-serif' font-size="15.2" text-anchor="middle" fill="#3a3a3a">-30</text>
<text x="1099.9" y="541.7" font-family='"Liberation Sans", Arial, Helvetica, sans-serif' font-size="15.2" text-anchor="middle" fill="#3a3a3a">-20</text>
<text x="1137.3" y="541.7" font-family='"Liberation Sans", Arial, Helvetica, sans-serif' font-size="15.2" text-anchor="middle" fill="#3a3a3a">-10</text>
<text x="1172.8" y="541.7" font-family='"Liberation Sans", Arial, Helvetica, sans-serif' font-size="15.2" text-anchor="middle" fill="#3a3a3a">0</text>
<text x="1213.2" y="541.7" font-family='"Liberation Sans", Arial, Helvetica, sans-serif' font-size="15.2" text-anchor="middle" fill="#3a3a3a">10</text>
<text x="1251.1000000000001" y="541.7" font-family='"Liberation Sans", Arial, Helvetica, sans-serif' font-size="15.2" text-anchor="middle" fill="#3a3a3a">20</text>
<text x="1288.5" y="541.7" font-family='"Liberation Sans", Arial, Helvetica, sans-serif' font-size="15.2" text-anchor="middle" fill="#3a3a3a">30</text>
<text x="1326.4" y="541.7" font-family='"Liberation Sans", Arial, Helvetica, sans-serif' font-size="15.2" text-anchor="middle" fill="#3a3a3a">40</text>
<text x="1364.2" y="541.7" font-family='"Liberation Sans", Arial, Helvetica, sans-serif' font-size="15.2" text-anchor="middle" fill="#3a3a3a">50</text>
<text x="1402.1000000000001" y="541.7" font-family='"Liberation Sans", Arial, Helvetica, sans-serif' font-size="15.2" text-anchor="middle" fill="#3a3a3a">60</text>
<path d="M1177.3 380.6 C1177.3 380.0 1177.3 378.2 1177.4 377.1 C1177.4 375.9 1177.5 374.7 1177.6 373.5 C1177.6 372.3 1177.8 371.1 1177.9 370.0 C1178.0 368.8 1178.2 367.6 1178.3 366.4 C1178.5 365.2 1178.7 364.0 1178.9 362.9 C1179.1 361.7 1179.4 360.5 1179.6 359.3 C1179.9 358.1 1180.2 357.0 1180.5 355.8 C1180.8 354.6 1181.1 353.4 1181.5 352.2 C1181.8 351.0 1182.2 349.9 1182.6 348.7 C1183.0 347.5 1183.4 346.3 1183.8 345.1 C1184.3 343.9 1184.7 342.8 1185.2 341.6 C1185.7 340.4 1186.2 339.2 1186.7 338.0 C1187.2 336.8 1187.8 335.7 1188.3 334.5 C1188.9 333.3 1189.5 332.1 1190.1 330.9 C1190.7 329.8 1191.3 328.6 1192.0 327.4 C1192.6 326.2 1193.3 325.0 1194.0 323.8 C1194.7 322.7 1195.4 321.5 1196.1 320.3 C1196.9 319.1 1197.6 317.9 1198.4 316.7 C1199.2 315.6 1200.0 314.4 1200.8 313.2 C1201.7 312.0 1202.5 310.8 1203.4 309.7 C1204.3 308.5 1205.1 307.3 1206.1 306.1 C1207.0 304.9 1207.9 303.7 1208.9 302.6 C1209.8 301.4 1210.8 300.2 1211.8 299.0 C1212.8 297.8 1213.8 296.6 1214.9 295.5 C1215.9 294.3 1217.0 293.1 1218.1 291.9 C1219.1 290.7 1220.2 289.5 1221.4 288.4 C1222.5 287.2 1223.7 286.0 1224.8 284.8 C1226.0 283.6 1227.2 282.5 1228.4 281.3 C1229.6 280.1 1230.9 278.9 1232.1 277.7 C1233.4 276.5 1234.7 275.4 1236.0 274.2 C1237.3 273.0 1238.6 271.8 1240.0 270.6 C1241.3 269.4 1242.7 268.3 1244.1 267.1 C1245.5 265.9 1246.9 264.7 1248.3 263.5 C1249.7 262.4 1251.2 261.2 1252.7 260.0 C1254.2 258.8 1255.7 257.6 1257.2 256.4 C1258.7 255.3 1260.2 254.1 1261.8 252.9 C1263.4 251.7 1265.0 250.5 1266.6 249.3 C1268.2 248.2 1269.8 247.0 1271.5 245.8 C1273.1 244.6 1274.8 243.4 1276.5 242.2 C1278.2 241.1 1280.8 239.3 1281.6 238.7" fill="none" stroke="#5a5ad0" stroke-width="1.3"/>
<path d="M1177.3 380.6 C1177.3 381.3 1177.3 383.2 1177.3 384.5 C1177.3 385.8 1177.3 387.1 1177.3 388.3 C1177.2 389.6 1177.2 390.8 1177.2 392.0 C1177.2 393.3 1177.1 394.5 1177.1 395.7 C1177.0 397.0 1176.9 398.2 1176.9 399.4 C1176.8 400.6 1176.7 401.8 1176.6 403.1 C1176.5 404.3 1176.4 405.5 1176.3 406.7 C1176.1 407.9 1176.0 409.1 1175.8 410.3 C1175.7 411.5 1175.5 412.7 1175.3 413.9 C1175.1 415.1 1174.9 416.3 1174.7 417.5 C1174.4 418.7 1174.2 419.9 1173.9 421.1 C1173.6 422.3 1173.4 423.5 1173.0 424.7 C1172.7 425.9 1172.4 427.0 1172.1 428.2 C1171.7 429.4 1171.3 430.6 1170.9 431.8 C1170.6 433.0 1170.1 434.2 1169.7 435.3 C1169.3 436.5 1168.8 437.7 1168.3 438.9 C1167.8 440.1 1167.3 441.2 1166.8 442.4 C1166.2 443.6 1165.7 444.8 1165.1 446.0 C1164.5 447.1 1163.9 448.3 1163.2 449.5 C1162.6 450.7 1161.9 451.8 1161.2 453.0 C1160.5 454.2 1159.8 455.4 1159.1 456.5 C1158.3 457.7 1157.5 458.9 1156.7 460.0 C1155.9 461.2 1155.1 462.4 1154.2 463.6 C1153.3 464.7 1152.4 465.9 1151.5 467.1 C1150.6 468.2 1149.6 469.4 1148.6 470.6 C1147.6 471.7 1146.6 472.9 1145.5 474.1 C1144.5 475.2 1143.4 476.4 1142.2 477.6 C1141.1 478.7 1140.0 479.9 1138.8 481.0 C1137.6 482.2 1136.4 483.4 1135.1 484.5 C1133.8 485.7 1132.5 486.9 1131.2 488.0 C1129.9 489.2 1128.5 490.3 1127.1 491.5 C1125.7 492.7 1124.3 493.8 1122.8 495.0 C1121.3 496.1 1119.8 497.3 1118.2 498.4 C1116.7 499.6 1115.1 500.8 1113.5 501.9 C1111.8 503.1 1110.2 504.2 1108.5 505.4 C1106.8 506.5 1105.0 507.7 1103.2 508.8 C1101.5 510.0 1099.6 511.2 1097.8 512.3 C1095.9 513.5 1094.0 514.6 1092.1 515.8 C1090.1 516.9 1088.1 518.1 1086.1 519.2 C1084.1 520.4 1080.9 522.1 1079.9 522.7" fill="none" stroke="#d86a78" stroke-width="1.3"/>
<path d="M1186.5 338.8L1193.2 327.2L1200.0 338.8Z" fill="#0a0ae6"/>
<path d="M1254.2 269.1L1261.0 257.6L1267.8 269.1Z" fill="#f4a6a6"/>
<path d="M1236.0 270.4L1242.8 258.9L1249.5 270.4Z" fill="#10f0f0"/>
<path d="M1139.8 460.6L1145.0 469.1L1150.2 460.6Z" fill="#fff" stroke="#f4a6a6" stroke-width="2.6"/>
<path d="M1137.8 472.9L1144.5 484.4L1151.2 472.9Z" fill="#10f0f0"/>
<path d="M1089.0 511.0L1094.2 519.5L1099.5 511.0Z" fill="#fff" stroke="#0a0ae6" stroke-width="3"/>
<path d="M1064.2 518.6L1070.0 528.1L1075.8 518.6Z" fill="#e03030" stroke="#f01010" stroke-width="2.6"/>
<text x="1142.58" y="267" font-family='"Liberation Sans", Arial, Helvetica, sans-serif' font-size="31.6" text-anchor="start" fill="#0a0a0a" textLength="21.45" lengthAdjust="spacingAndGlyphs">H</text>
<text x="1164.04" y="256.61" font-family='"Liberation Sans", Arial, Helvetica, sans-serif' font-size="18" fill="#0a0a0a" stroke="#0a0a0a" stroke-width="0.6">+</text>
<text x="1065.62" y="377.3" font-family='"Liberation Sans", Arial, Helvetica, sans-serif' font-size="31.6" text-anchor="start" fill="#0a0a0a" textLength="20.34" lengthAdjust="spacingAndGlyphs">K</text>
<text x="1085.84" y="367.26" font-family='"Liberation Sans", Arial, Helvetica, sans-serif' font-size="22" fill="#0a0a0a" stroke="#0a0a0a" stroke-width="0.3">-</text>
<text x="1367.22" y="377.3" font-family='"Liberation Sans", Arial, Helvetica, sans-serif' font-size="31.6" text-anchor="start" fill="#0a0a0a" textLength="20.34" lengthAdjust="spacingAndGlyphs">K</text>
<text x="1388.34" y="367.21" font-family='"Liberation Sans", Arial, Helvetica, sans-serif' font-size="18" fill="#0a0a0a" stroke="#0a0a0a" stroke-width="0.6">+</text>
<text x="1144.18" y="516.8" font-family='"Liberation Sans", Arial, Helvetica, sans-serif' font-size="31.6" text-anchor="start" fill="#0a0a0a" textLength="21.45" lengthAdjust="spacingAndGlyphs">H</text>
<text x="1164.84" y="506.76" font-family='"Liberation Sans", Arial, Helvetica, sans-serif' font-size="22" fill="#0a0a0a" stroke="#0a0a0a" stroke-width="0.3">-</text>
<text x="1235.8" y="316.8" font-family='"Liberation Sans", Arial, Helvetica, sans-serif' font-size="29" text-anchor="start" fill="#111" textLength="131.5" lengthAdjust="spacingAndGlyphs">Individual</text>
</g>
<g id="legend">
<rect x="1412" y="238.7" width="124" height="170.3" fill="#fff" stroke="#7a7a7a" stroke-width="1.1"/>
<path d="M1422.7 249.0L1428.8 259.2L1434.9 249.0Z" fill="#fff" stroke="#f4a6a6" stroke-width="3.2" stroke-linejoin="miter"/>
<text x="1449.4" y="259.0" font-family='"Liberation Sans", Arial, Helvetica, sans-serif' font-size="14.5" text-anchor="start" fill="#262626" textLength="72.9" lengthAdjust="spacingAndGlyphs">BF-keyDec</text>
<path d="M1422.7 267.3L1428.8 277.5L1434.9 267.3Z" fill="#fff" stroke="#f01010" stroke-width="3.2" stroke-linejoin="miter"/>
<text x="1449.4" y="277.3" font-family='"Liberation Sans", Arial, Helvetica, sans-serif' font-size="14.5" text-anchor="start" fill="#262626" textLength="72.9" lengthAdjust="spacingAndGlyphs">AF-keyDec</text>
<path d="M1422.7 287.3L1428.8 297.5L1434.9 287.3Z" fill="#fff" stroke="#10f0f0" stroke-width="3.2" stroke-linejoin="miter"/>
<text x="1449.4" y="297.3" font-family='"Liberation Sans", Arial, Helvetica, sans-serif' font-size="14.5" text-anchor="start" fill="#262626" textLength="75.5" lengthAdjust="spacingAndGlyphs">BM-keyDec</text>
<path d="M1422.7 306.9L1428.8 317.1L1434.9 306.9Z" fill="#fff" stroke="#0a0ae6" stroke-width="3.2" stroke-linejoin="miter"/>
<text x="1449.4" y="316.9" font-family='"Liberation Sans", Arial, Helvetica, sans-serif' font-size="14.5" text-anchor="start" fill="#262626" textLength="75.9" lengthAdjust="spacingAndGlyphs">AM-keyDec</text>
<path d="M1420.0 347.2L1428.8 331.8L1437.6 347.2Z" fill="#f4a6a6"/>
<text x="1449.4" y="345.3" font-family='"Liberation Sans", Arial, Helvetica, sans-serif' font-size="14.5" text-anchor="start" fill="#262626" textLength="66.6" lengthAdjust="spacingAndGlyphs">BF-keyInc</text>
<path d="M1420.0 365.5L1428.8 350.1L1437.6 365.5Z" fill="#f01010"/>
<text x="1449.4" y="363.59999999999997" font-family='"Liberation Sans", Arial, Helvetica, sans-serif' font-size="14.5" text-anchor="start" fill="#262626" textLength="66.6" lengthAdjust="spacingAndGlyphs">AF-keyInc</text>
<path d="M1420.0 384.1L1428.8 368.7L1437.6 384.1Z" fill="#10f0f0"/>
<text x="1449.4" y="382.2" font-family='"Liberation Sans", Arial, Helvetica, sans-serif' font-size="14.5" text-anchor="start" fill="#262626" textLength="70" lengthAdjust="spacingAndGlyphs">BM-keyInc</text>
<path d="M1420.0 403.0L1428.8 387.6L1437.6 403.0Z" fill="#0a0ae6"/>
<text x="1449.4" y="401.09999999999997" font-family='"Liberation Sans", Arial, Helvetica, sans-serif' font-size="14.5" text-anchor="start" fill="#262626" textLength="70" lengthAdjust="spacingAndGlyphs">AM-keyInc</text>
<line x1="1417.5" y1="324.7" x2="1531" y2="324.7" stroke="#111" stroke-width="1.4" stroke-dasharray="4.2 2.2"/>
</g>
<g id="blue-arrows" stroke="#4a7ebb" stroke-width="6.5" fill="none" stroke-linejoin="miter">
<path d="M711 381.6 H940" />
<path d="M922 370.5 L943 381.6 L922 392.7" stroke-linecap="round"/>
<path d="M562.5 844.3 H704" />
<path d="M686.5 833 L707.5 844.3 L686.5 855.6" stroke-linecap="round"/>
</g>
<g id="cpt-text">
<text x="290.8" y="748.5" font-family='"Liberation Sans", Arial, Helvetica, sans-serif' font-size="48" text-anchor="middle" textLength="518" lengthAdjust="spacingAndGlyphs">Continuous performance</text>
<text x="290.2" y="804.8" font-family='"Liberation Sans", Arial, Helvetica, sans-serif' font-size="48" text-anchor="middle" textLength="557.5" lengthAdjust="spacingAndGlyphs">task with ability to evaluate</text>
<text x="290.1" y="861" font-family='"Liberation Sans", Arial, Helvetica, sans-serif' font-size="48" text-anchor="middle" textLength="471.5" lengthAdjust="spacingAndGlyphs">signal detection during</text>
<text x="289.2" y="918.2" font-family='"Liberation Sans", Arial, Helvetica, sans-serif' font-size="48" text-anchor="middle" textLength="353" lengthAdjust="spacingAndGlyphs">divided attention:</text>
</g>
<g id="letters">
<text y="1020" font-family='"Liberation Serif", "Times New Roman", serif' font-size="60" fill="#0a0a0a" filter="url(#lshadow)"><tspan x="67.1">q</tspan><tspan x="112.4">d</tspan><tspan x="157.8">q</tspan><tspan x="201.5">p</tspan><tspan x="247.6">q</tspan><tspan x="292.3">b</tspan><tspan x="337.7">a</tspan><tspan x="378.0">r</tspan><tspan x="415.0">a</tspan><tspan x="455.3">o</tspan><tspan x="500.7">a</tspan></text>
<rect x="338.5" y="1026.8" width="26" height="3" fill="#0a0a0a" filter="url(#lshadow)"/>
<rect x="416.5" y="1026.8" width="25.5" height="3" fill="#0a0a0a" filter="url(#lshadow)"/>
<path d="M195.3 982.1 C230 967 265 953.5 290 954 C320 954.5 345 969 367 982" stroke="#111" stroke-width="1.4" fill="none"/>
<path d="M374 986 L362.5 985.5 L368 976.5 Z" fill="#111"/>
<path d="M297 1056 C330 1072 365 1087.5 390 1087 C415 1086.500 440 1069 461 1052.5" stroke="#111" stroke-width="1.4" fill="none"/>
<path d="M467.500 1047.500 L462.5 1057.500 L456 1049.500 Z" fill="#111"/>
</g>
<g id="sdt-chart">
<rect x="733.7" y="597.2" width="647.2" height="472" fill="#fff" stroke="#a6a6a6" stroke-width="1.5"/>
<path d="M1127.6 727H1169.5M1122.5 743.7H1174.7M1117.4 762.4H1179.8M1112.6 781.3H1184.5M1108.0 800H1189.1M1103.7 818.1H1193.4M1099.1 837H1198.0M1094.5 855.5H1202.7M1089.5 874.1H1207.6M1084.0 893.4H1213.1M1078.2 911.6H1219.0M1076.5 932.5H1226.9M1076.5 948.8H1234.8M1076.5 966.4H1247.0" stroke="#6a9fd8" stroke-width="1.5" fill="none"/>
<path d="M1038.7 987.0V976.3M1052.3 987.0V963.8M1065.3 987.0V943.1" stroke="#f05a28" stroke-width="1.7" fill="none"/>
<line x1="806.5" y1="987.0" x2="1342" y2="987.0" stroke="#1a1a1a" stroke-width="1.5"/>
<path d="M806.8 987.0v4.5M913.6 987.0v4.5M1020.4 987.0v4.5M1127.2 987.0v4.5M1234.0 987.0v4.5M1340.8 987.0v4.5" stroke="#1a1a1a" stroke-width="1.4" fill="none"/>
<text transform="translate(812.0 997.6) rotate(-90)" font-family='"Liberation Sans", Arial, Helvetica, sans-serif' font-size="14.8" font-weight="bold" text-anchor="end" fill="#2e2e2e" textLength="37.7" lengthAdjust="spacingAndGlyphs">-10.00</text>
<text transform="translate(918.8 997.6) rotate(-90)" font-family='"Liberation Sans", Arial, Helvetica, sans-serif' font-size="14.8" font-weight="bold" text-anchor="end" fill="#2e2e2e" textLength="31.3" lengthAdjust="spacingAndGlyphs">-5.00</text>
<text transform="translate(1025.6 997.6) rotate(-90)" font-family='"Liberation Sans", Arial, Helvetica, sans-serif' font-size="14.8" font-weight="bold" text-anchor="end" fill="#2e2e2e" textLength="27.4" lengthAdjust="spacingAndGlyphs">0.00</text>
<text transform="translate(1132.4 997.6) rotate(-90)" font-family='"Liberation Sans", Arial, Helvetica, sans-serif' font-size="14.8" font-weight="bold" text-anchor="end" fill="#2e2e2e" textLength="27.4" lengthAdjust="spacingAndGlyphs">5.00</text>
<text transform="translate(1239.2 997.6) rotate(-90)" font-family='"Liberation Sans", Arial, Helvetica, sans-serif' font-size="14.8" font-weight="bold" text-anchor="end" fill="#2e2e2e" textLength="34" lengthAdjust="spacingAndGlyphs">10.00</text>
<text transform="translate(1346.0 997.6) rotate(-90)" font-family='"Liberation Sans", Arial, Helvetica, sans-serif' font-size="14.8" font-weight="bold" text-anchor="end" fill="#2e2e2e" textLength="34" lengthAdjust="spacingAndGlyphs">15.00</text>
<polyline points="864.5,986.6 866.0,986.6 867.6,986.5 869.1,986.4 870.7,986.4 872.3,986.3 873.8,986.2 875.4,986.1 876.9,986.0 878.5,985.8 880.0,985.7 881.6,985.5 883.2,985.3 884.7,985.1 886.3,984.9 887.8,984.6 889.4,984.3 890.9,984.0 892.5,983.7 894.1,983.3 895.6,982.9 897.2,982.4 898.7,981.9 900.3,981.4 901.9,980.8 903.4,980.1 905.0,979.4 906.5,978.6 908.1,977.8 909.6,976.8 911.2,975.8 912.8,974.7 914.3,973.6 915.9,972.3 917.4,970.9 919.0,969.5 920.5,967.9 922.1,966.2 923.7,964.4 925.2,962.5 926.8,960.4 928.3,958.3 929.9,955.9 931.4,953.5 933.0,950.8 934.6,948.1 936.1,945.1 937.7,942.0 939.2,938.8 940.8,935.4 942.3,931.8 943.9,928.0 945.5,924.1 947.0,919.9 948.6,915.7 950.1,911.2 951.7,906.6 953.2,901.8 954.8,896.8 956.4,891.7 957.9,886.4 959.5,880.9 961.0,875.3 962.6,869.6 964.2,863.8 965.7,857.8 967.3,851.7 968.8,845.5 970.4,839.3 971.9,832.9 973.5,826.5 975.1,820.1 976.6,813.6 978.2,807.1 979.7,800.7 981.3,794.2 982.8,787.8 984.4,781.4 986.0,775.2 987.5,769.0 989.1,762.9 990.6,757.0 992.2,751.2 993.7,745.7 995.3,740.3 996.9,735.1 998.4,730.2 1000.0,725.5 1001.5,721.0 1003.1,716.9 1004.6,713.1 1006.2,709.5 1007.8,706.4 1009.3,703.5 1010.9,701.0 1012.4,698.9 1014.0,697.1 1015.5,695.7 1017.1,694.7 1018.7,694.0 1020.2,693.8 1021.8,694.0 1023.3,694.5 1024.9,695.4 1026.5,696.7 1028.0,698.4 1029.6,700.5 1031.1,702.9 1032.7,705.7 1034.2,708.8 1035.8,712.2 1037.4,716.0 1038.9,720.1 1040.5,724.4 1042.0,729.1 1043.6,733.9 1045.1,739.1 1046.7,744.4 1048.3,750.0 1049.8,755.7 1051.4,761.6 1052.9,767.6 1054.5,773.7 1056.0,780.0 1057.6,786.3 1059.2,792.7 1060.7,799.2 1062.3,805.6 1063.8,812.1 1065.4,818.6 1066.9,825.1 1068.5,831.5 1070.1,837.8 1071.6,844.1 1073.2,850.3 1074.7,856.4 1076.3,862.4 1077.8,868.3 1079.4,874.1 1081.0,879.7 1082.5,885.1 1084.1,890.5 1085.6,895.6 1087.2,900.6 1088.8,905.5 1090.3,910.1 1091.9,914.6 1093.4,919.0 1095.0,923.1 1096.5,927.1 1098.1,930.9 1099.7,934.5 1101.2,938.0 1102.8,941.3 1104.3,944.4 1105.9,947.4 1107.4,950.2 1109.0,952.9 1110.6,955.4 1112.1,957.7 1113.7,960.0 1115.2,962.0 1116.8,964.0 1118.3,965.8 1119.9,967.5 1121.5,969.1 1123.0,970.6 1124.6,972.0 1126.1,973.3 1127.7,974.5 1129.2,975.6 1130.8,976.6 1132.4,977.5 1133.9,978.4 1135.5,979.2 1137.0,979.9 1138.6,980.6 1140.1,981.2 1141.7,981.8 1143.3,982.3 1144.8,982.8 1146.4,983.2 1147.9,983.6 1149.5,984.0 1151.1,984.3 1152.6,984.6 1154.2,984.8 1155.7,985.1 1157.3,985.3 1158.8,985.5 1160.4,985.6 1162.0,985.8 1163.5,985.9 1165.1,986.1 1166.6,986.2 1168.2,986.3 1169.7,986.3 1171.3,986.4 1172.9,986.5 1174.4,986.6 1176.0,986.6 1177.5,986.7 1179.1,986.7 1180.6,986.7 1182.2,986.8 1183.8,986.8 1185.3,986.8 1186.9,986.9 1188.4,986.9 1190.0,986.9 1191.5,986.9 1193.1,986.9 1194.7,986.9 1196.2,986.9 1197.8,986.9 1199.3,987.0 1200.9,987.0 1202.4,987.0 1204.0,987.0 1205.6,987.0 1207.1,987.0 1208.7,987.0 1210.2,987.0 1211.8,987.0 1213.4,987.0 1214.9,987.0 1216.5,987.0 1218.0,987.0 1219.6,987.0 1221.1,987.0 1222.7,987.0 1224.3,987.0 1225.8,987.0 1227.4,987.0 1228.9,987.0 1230.5,987.0 1232.0,987.0 1233.6,987.0 1235.2,987.0 1236.7,987.0 1238.3,987.0" fill="none" stroke="#0a0a0a" stroke-width="3" stroke-dasharray="0.1 6.1" stroke-linecap="round"/>
<polyline points="881.6,987.0 883.4,987.0 885.2,987.0 887.0,987.0 888.8,987.0 890.5,987.0 892.3,987.0 894.1,987.0 895.9,987.0 897.7,987.0 899.5,987.0 901.3,987.0 903.1,987.0 904.9,987.0 906.7,987.0 908.5,987.0 910.3,987.0 912.1,987.0 913.9,987.0 915.7,987.0 917.5,987.0 919.3,987.0 921.1,987.0 922.9,987.0 924.7,987.0 926.5,987.0 928.3,987.0 930.1,987.0 931.9,987.0 933.7,987.0 935.5,987.0 937.3,987.0 939.1,987.0 940.9,987.0 942.7,987.0 944.5,987.0 946.3,987.0 948.1,987.0 949.9,987.0 951.7,987.0 953.5,987.0 955.3,987.0 957.1,987.0 958.9,987.0 960.7,987.0 962.5,987.0 964.3,987.0 966.1,987.0 967.9,987.0 969.7,987.0 971.4,986.9 973.2,986.9 975.0,986.9 976.8,986.9 978.6,986.9 980.4,986.9 982.2,986.9 984.0,986.8 985.8,986.8 987.6,986.8 989.4,986.7 991.2,986.7 993.0,986.6 994.8,986.5 996.6,986.5 998.4,986.4 1000.2,986.3 1002.0,986.2 1003.8,986.1 1005.6,985.9 1007.4,985.8 1009.2,985.6 1011.0,985.4 1012.8,985.1 1014.6,984.9 1016.4,984.6 1018.2,984.2 1020.0,983.8 1021.8,983.4 1023.6,982.9 1025.4,982.4 1027.2,981.8 1029.0,981.2 1030.8,980.4 1032.6,979.6 1034.4,978.8 1036.2,977.8 1038.0,976.7 1039.8,975.5 1041.6,974.3 1043.4,972.9 1045.2,971.3 1047.0,969.7 1048.8,967.9 1050.6,965.9 1052.4,963.8 1054.1,961.5 1055.9,959.0 1057.7,956.4 1059.5,953.6 1061.3,950.5 1063.1,947.3 1064.9,943.8 1066.7,940.2 1068.5,936.3 1070.3,932.2 1072.1,927.8 1073.9,923.3 1075.7,918.5 1077.5,913.4 1079.3,908.2 1081.1,902.7 1082.9,897.0 1084.7,891.0 1086.5,884.9 1088.3,878.6 1090.1,872.0 1091.9,865.3 1093.7,858.5 1095.5,851.4 1097.3,844.3 1099.1,837.0 1100.9,829.7 1102.7,822.3 1104.5,814.8 1106.3,807.3 1108.1,799.8 1109.9,792.4 1111.7,785.0 1113.5,777.7 1115.3,770.6 1117.1,763.5 1118.9,756.7 1120.7,750.1 1122.5,743.7 1124.3,737.6 1126.1,731.8 1127.9,726.3 1129.7,721.1 1131.5,716.4 1133.3,712.0 1135.0,708.1 1136.8,704.6 1138.6,701.6 1140.4,699.0 1142.2,697.0 1144.0,695.4 1145.8,694.4 1147.6,693.9 1149.4,693.9 1151.2,694.4 1153.0,695.4 1154.8,696.9 1156.6,699.0 1158.4,701.5 1160.2,704.5 1162.0,708.0 1163.8,711.9 1165.6,716.3 1167.4,721.0 1169.2,726.1 1171.0,731.6 1172.8,737.4 1174.6,743.5 1176.4,749.9 1178.2,756.5 1180.0,763.3 1181.8,770.4 1183.6,777.5 1185.4,784.8 1187.2,792.2 1189.0,799.6 1190.8,807.1 1192.6,814.6 1194.4,822.0 1196.2,829.5 1198.0,836.8 1199.8,844.1 1201.6,851.2 1203.4,858.2 1205.2,865.1 1207.0,871.8 1208.8,878.4 1210.6,884.7 1212.4,890.9 1214.2,896.8 1216.0,902.5 1217.7,908.0 1219.5,913.3 1221.3,918.3 1223.1,923.1 1224.9,927.7 1226.7,932.1 1228.5,936.2 1230.3,940.1 1232.1,943.7 1233.9,947.2 1235.7,950.4 1237.5,953.5 1239.3,956.3 1241.1,959.0 1242.9,961.4 1244.7,963.7 1246.5,965.8 1248.3,967.8 1250.1,969.6 1251.9,971.3 1253.7,972.8 1255.5,974.2 1257.3,975.5 1259.1,976.7 1260.9,977.8 1262.7,978.7 1264.5,979.6 1266.3,980.4 1268.1,981.1 1269.9,981.8 1271.7,982.4 1273.5,982.9 1275.3,983.4 1277.1,983.8 1278.9,984.2 1280.7,984.5 1282.5,984.8 1284.3,985.1 1286.1,985.4 1287.9,985.6 1289.7,985.7 1291.5,985.9 1293.3,986.1 1295.1,986.2 1296.9,986.3 1298.6,986.4 1300.4,986.5 1302.2,986.5 1304.0,986.6 1305.8,986.7 1307.6,986.7 1309.4,986.8 1311.2,986.8 1313.0,986.8" fill="none" stroke="#0a0a0a" stroke-width="3.2" stroke-dasharray="9.5 4"/>
<line x1="1076.5" y1="754.3" x2="1076.5" y2="987.0" stroke="#0a0a0a" stroke-width="2.6"/>
<line x1="1233.500" y1="639.3" x2="1271" y2="639.3" stroke="#0a0a0a" stroke-width="2.6" stroke-dasharray="0.1 6.1" stroke-linecap="round"/>
<line x1="1232.5" y1="660.2" x2="1271" y2="660.2" stroke="#0a0a0a" stroke-width="2.9" stroke-dasharray="8.5 3.5"/>
<text x="1277.9" y="644.8" font-family='"Liberation Sans", Arial, Helvetica, sans-serif' font-size="14.4" text-anchor="start" font-weight="bold" fill="#111" textLength="35.6" lengthAdjust="spacingAndGlyphs">Noise</text>
<text x="1277.9" y="666.1" font-family='"Liberation Sans", Arial, Helvetica, sans-serif' font-size="14.4" text-anchor="start" font-weight="bold" fill="#111" textLength="37.6" lengthAdjust="spacingAndGlyphs">Signal</text>
<text x="874.4" y="727.3" font-family='"Liberation Sans", Arial, Helvetica, sans-serif' font-size="14.6" text-anchor="start" font-weight="bold" fill="#111" textLength="90.2" lengthAdjust="spacingAndGlyphs">Noise = N(0,2)</text>
<text x="1187.8" y="729.3" font-family='"Liberation Sans", Arial, Helvetica, sans-serif' font-size="14.6" text-anchor="start" font-weight="bold" fill="#111" textLength="92.6" lengthAdjust="spacingAndGlyphs">Signal = N(6,2)</text>
<text x="1038.4" y="676.1" font-family='"Liberation Sans", Arial, Helvetica, sans-serif' font-size="15" text-anchor="start" fill="#404040" textLength="130.7" lengthAdjust="spacingAndGlyphs">Criterion Response</text>
<text x="1010.2" y="940.1" font-family='"Liberation Sans", Arial, Helvetica, sans-serif' font-size="13.5" text-anchor="start" fill="#404040" textLength="28.5" lengthAdjust="spacingAndGlyphs">Miss</text>
<text x="1267.6" y="940.1" font-family='"Liberation Sans", Arial, Helvetica, sans-serif' font-size="13.5" text-anchor="start" fill="#404040" textLength="17" lengthAdjust="spacingAndGlyphs">Hit</text>
<path d="M1124.9 685.5 L1086.3 764.6 M1084.4 753.5 L1086.3 764.6 L1097.4 758.4" stroke="#111" stroke-width="1.9" fill="none"/>
<path d="M1032.8 948.2 L1064.5 975.4 M1052.3 971.3 L1064.5 975.4 L1061.8 963.2" stroke="#111" stroke-width="1.9" fill="none"/>
<path d="M1261.4 937.4 L1222 962.6 M1227.4 952.3 L1222 962.6 L1235.6 961.8" stroke="#111" stroke-width="1.9" fill="none"/>
</g>
<g id="sdt-formula">
<text x="692.8" y="1123.8" font-family='"Liberation Sans", Arial, Helvetica, sans-serif' font-size="40.2" text-anchor="start" textLength="535" lengthAdjust="spacingAndGlyphs">Signal Detection Theory (SDT):</text>
<text x="1235.5" y="1125" font-family='"Liberation Serif", "Times New Roman", serif' font-size="50" text-anchor="start" font-style="italic" textLength="33" lengthAdjust="spacingAndGlyphs">β</text>
<text x="1275.2" y="1125.3" font-family='"Liberation Serif", "Times New Roman", serif' font-size="44" text-anchor="start" textLength="28.6" lengthAdjust="spacingAndGlyphs">=</text>
<text x="1322" y="1124.4" font-family='"Liberation Serif", "Times New Roman", serif' font-size="50" text-anchor="start" font-style="italic">e</text>
<text x="1346.4" y="1102" font-family='"Liberation Serif", "Times New Roman", serif' font-size="29.5" text-anchor="start">(</text>
<text x="1357.3" y="1102" font-family='"Liberation Serif", "Times New Roman", serif' font-size="29.5" text-anchor="start" font-style="italic">d</text>
<text x="1375.6" y="1102" font-family='"Liberation Serif", "Times New Roman", serif' font-size="29.5" text-anchor="start">'</text>
<text x="1386" y="1102" font-family='"Liberation Serif", "Times New Roman", serif' font-size="29.5" text-anchor="start">×</text>
<text x="1403" y="1102" font-family='"Liberation Serif", "Times New Roman", serif' font-size="29.5" text-anchor="start" font-style="italic" textLength="18.2" lengthAdjust="spacingAndGlyphs">C</text>
<text x="1425.3" y="1102" font-family='"Liberation Serif", "Times New Roman", serif' font-size="29.5" text-anchor="start">)</text>
</g>
</svg>
</body></html>
